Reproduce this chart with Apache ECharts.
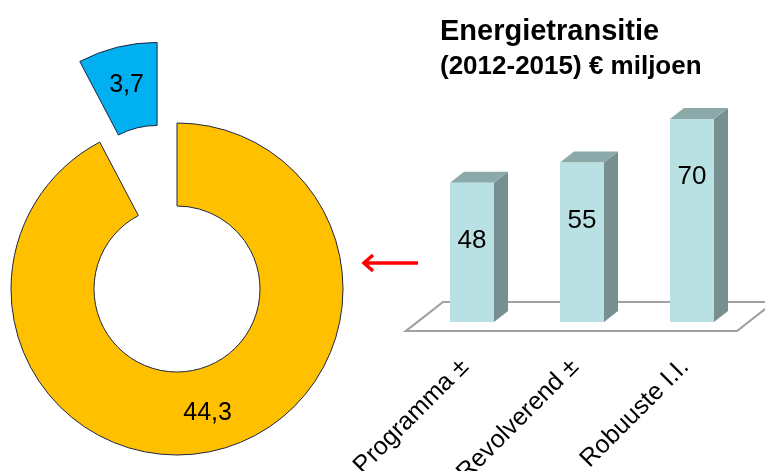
<!DOCTYPE html>
<html>
<head>
<meta charset="utf-8">
<script src="https://cdn.jsdelivr.net/npm/echarts@6/dist/echarts.min.js"></script>
<style>
  html, body { margin: 0; padding: 0; background: #fff; }
  #main { width: 765px; height: 471px; }
</style>
</head>
<body>
<div id="main"></div>
<script>
var FONT = 'Liberation Sans, Arial, sans-serif';

// donut: split of the 48 of "Programma"
var pieNames = ['deel 1', 'deel 2'];
var pieValues = [44.3, 3.7];
var pieColors = ['#FFC000', '#00B0F0'];

// bars
var categories = ['Programma ±', 'Revolverend ±', 'Robuuste I.I.'];
var barValues = [48, 55, 70];

var myChart = echarts.init(document.getElementById('main'));

function dutch(v) {
    return String(v).replace('.', ',');
}

// 3d-ish bar: front, side and top face
function renderBar(params, api) {
    var base = api.coord([api.value(0), 0]);
    var top = api.coord([api.value(0), api.value(1)]);
    var w = api.size([1, 0])[0] * 0.4;
    var x0 = base[0] - w / 2, x1 = base[0] + w / 2;
    var y0 = top[1], y1 = base[1];
    var dx = 14, dy = -11;
    return {
        type: 'group',
        children: [{
            type: 'polygon',
            shape: { points: [[x1, y0], [x1 + dx, y0 + dy], [x1 + dx, y1 + dy], [x1, y1]] },
            style: { fill: '#778F8F' }
        }, {
            type: 'polygon',
            shape: { points: [[x0, y0], [x1, y0], [x1 + dx, y0 + dy], [x0 + dx, y0 + dy]] },
            style: { fill: '#8CA9A9' }
        }, {
            type: 'rect',
            shape: { x: x0, y: y0, width: w, height: y1 - y0 },
            style: { fill: '#B9E0E2' }
        }, {
            type: 'text',
            style: {
                text: String(api.value(1)),
                x: base[0], y: y0 + 58,
                align: 'center', verticalAlign: 'middle',
                fontSize: 26, fontFamily: FONT, fill: '#000'
            }
        }]
    };
}

// the floor under the bars, drawn from the grid rectangle
function renderFloor(params, api) {
    var cs = params.coordSys;
    var fy = cs.y + cs.height + 9;
    var fl = cs.x - 11, fr = cs.x + cs.width - 10;
    var dx = 37, dy = -29;
    return {
        type: 'polygon',
        shape: { points: [[fl, fy], [fr, fy], [fr + dx, fy + dy], [fl + dx, fy + dy]] },
        style: { fill: '#fff', stroke: '#A0A0A0', lineWidth: 2.2 }
    };
}

option = {
    backgroundColor: '#fff',
    animation: false,

    title: {
        text: 'Energietransitie',
        subtext: '(2012-2015) € miljoen',
        left: 435,
        top: 12,
        itemGap: 8,
        textStyle: { fontSize: 29, fontWeight: 'bold', color: '#000', fontFamily: FONT },
        subtextStyle: { fontSize: 26, fontWeight: 'bold', color: '#000', fontFamily: FONT }
    },

    grid: { left: 417, right: 18, top: 90, bottom: 149, outerBoundsMode: 'none' },

    xAxis: {
        type: 'category',
        data: categories,
        axisLine: { show: false },
        axisTick: { show: false },
        axisLabel: {
            rotate: 45,
            margin: 34,
            padding: [0, 10, 0, 0],
            fontSize: 25,
            color: '#000',
            fontFamily: FONT
        }
    },
    yAxis: {
        type: 'value',
        min: 0,
        max: 80,
        show: false
    },

    graphic: [{
        type: 'group',
        children: [{
            type: 'line',
            shape: { x1: 418, y1: 263, x2: 364, y2: 263 },
            style: { stroke: '#FF0000', lineWidth: 3.5 }
        }, {
            type: 'polyline',
            shape: { points: [[373, 255], [364, 263], [373, 271]] },
            style: { stroke: '#FF0000', lineWidth: 3.5, fill: null }
        }]
    }],

    series: [{
        type: 'custom',
        name: 'vloer',
        data: [[0, 0]],
        renderItem: renderFloor,
        z: 1,
        silent: true
    }, {
        type: 'custom',
        name: 'Energietransitie',
        data: barValues.map(function (v, i) { return [i, v]; }),
        renderItem: renderBar,
        z: 2,
        silent: true
    }, {
        type: 'pie',
        name: 'Programma',
        center: [177, 289],
        radius: [83, 166],
        startAngle: 90,
        clockwise: true,
        selectedMode: 'single',
        selectedOffset: 83,
        silent: true,
        avoidLabelOverlap: false,
        data: pieValues.map(function (v, i) {
            return {
                value: v,
                name: pieNames[i],
                selected: i === 1,
                itemStyle: { color: pieColors[i] }
            };
        }),
        itemStyle: { borderColor: '#1F2440', borderWidth: 1 },
        select: { itemStyle: { borderColor: '#1F2440', borderWidth: 1 } },
        emphasis: { disabled: true },
        label: {
            position: 'inside',
            fontSize: 25,
            color: '#000',
            fontFamily: FONT,
            formatter: function (p) { return dutch(p.value); }
        },
        labelLine: { show: false }
    }]
};

myChart.setOption(option);
</script>
</body>
</html>
